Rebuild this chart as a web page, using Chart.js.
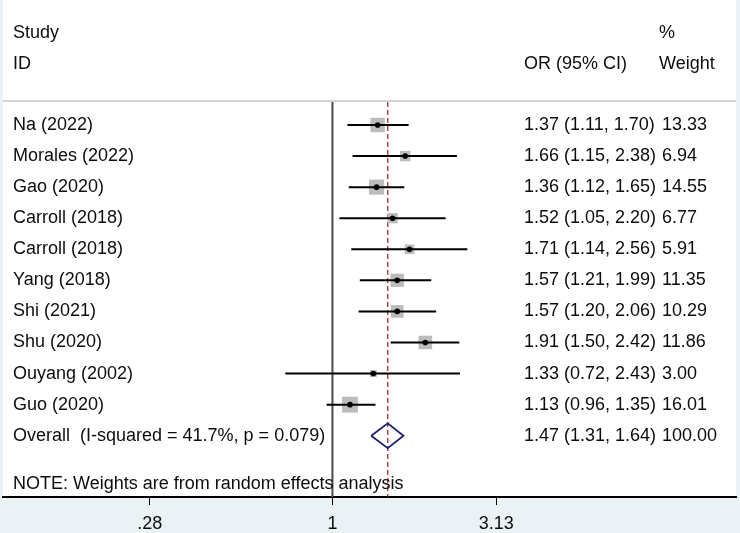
<!DOCTYPE html>
<html>
<head>
<meta charset="utf-8">
<title>Forest plot</title>
<script src="https://cdn.jsdelivr.net/npm/chart.js@4.4.0/dist/chart.umd.min.js"></script>
<style>
  html, body { margin: 0; padding: 0; background: #eaf2f6; }
  #wrap { width: 740px; height: 533px; }
</style>
</head>
<body>
<div id="wrap"><canvas id="forest" width="740" height="533"></canvas></div>
<script>
/* ---------------------------------------------------
   data
----------------------------------------------------- */
var studies = ["Na (2022)", "Morales (2022)", "Gao (2020)", "Carroll (2018)", "Carroll (2018)",
               "Yang (2018)", "Shi (2021)", "Shu (2020)", "Ouyang (2002)", "Guo (2020)"];
var orValues = [1.37, 1.66, 1.36, 1.52, 1.71, 1.57, 1.57, 1.91, 1.33, 1.13];
var ciLow    = [1.11, 1.15, 1.12, 1.05, 1.14, 1.21, 1.20, 1.50, 0.72, 0.96];
var ciHigh   = [1.70, 2.38, 1.65, 2.20, 2.56, 1.99, 2.06, 2.42, 2.43, 1.35];
var weights  = [13.33, 6.94, 14.55, 6.77, 5.91, 11.35, 10.29, 11.86, 3.00, 16.01];

var overallOR = 1.47;
var overallLow = 1.31;
var overallHigh = 1.64;
var overallWeight = 100.00;
var overallLabel = "Overall  (I-squared = 41.7%, p = 0.079)";
var noteText = "NOTE: Weights are from random effects analysis";

var tickValues = [0.28, 1, 3.13];
var tickLabels = [".28", "1", "3.13"];

/* ---------------------------------------------------
   layout (rows are in units of the y scale)
----------------------------------------------------- */
var yTop = -4.023, yBottom = 11.973;
var rowStudy = -2.97, rowID = -1.97, rowRule = -0.74, rowOverall = 10, rowNote = 11.55;
var colLeft = 13, colOR = 524, colWeight = 659;
var textFont = '18px "Liberation Sans", Arial, sans-serif';

function fmt(v) { return v.toFixed(2); }

/* ---------------------------------------------------
   datasets
----------------------------------------------------- */
var datasets = [];

// point estimates (drawn on top)
datasets.push({
    type: 'scatter', order: 0,
    data: orValues.map(function (v, i) { return {x: v, y: i}; }),
    pointRadius: 2.8, pointBackgroundColor: '#000', pointBorderWidth: 0
});

// confidence intervals
for (var i = 0; i < studies.length; i++) {
    datasets.push({
        type: 'scatter', order: 1, showLine: true,
        data: [{x: ciLow[i], y: i}, {x: ciHigh[i], y: i}],
        borderColor: '#000', borderWidth: 2, pointRadius: 0
    });
}

// weight boxes
datasets.push({
    type: 'scatter', order: 2,
    data: orValues.map(function (v, i) { return {x: v, y: i}; }),
    pointStyle: 'rect',
    pointRadius: weights.map(function (w) { return 3.95 * Math.sqrt(w) / Math.SQRT2; }),
    pointBackgroundColor: '#bcbcbc', pointBorderWidth: 0
});

// overall diamond
datasets.push({
    type: 'scatter', order: 1, showLine: true,
    data: [{x: overallLow, y: rowOverall}, {x: overallOR, y: rowOverall - 0.4},
           {x: overallHigh, y: rowOverall}, {x: overallOR, y: rowOverall + 0.4},
           {x: overallLow, y: rowOverall}],
    borderColor: '#1f1f72', borderWidth: 1.8, pointRadius: 0, borderJoinStyle: 'miter'
});

// no effect line
datasets.push({
    type: 'scatter', order: 3, showLine: true,
    data: [{x: 1, y: rowRule}, {x: 1, y: yBottom}],
    borderColor: '#4a4a4a', borderWidth: 2, pointRadius: 0
});

// overall effect line
datasets.push({
    type: 'scatter', order: 3, showLine: true,
    data: [{x: overallOR, y: rowRule}, {x: overallOR, y: yBottom}],
    borderColor: '#9b1f28', borderWidth: 1.2, borderDash: [5, 3], pointRadius: 0
});

/* ---------------------------------------------------
   text columns
----------------------------------------------------- */
var forestText = {
    id: 'forestText',
    beforeDraw: function (chart) {
        var ctx = chart.ctx, a = chart.chartArea, ys = chart.scales.y;
        ctx.save();
        ctx.fillStyle = '#fff';
        ctx.fillRect(a.left, 0, a.right - a.left, a.bottom);
        ctx.strokeStyle = '#c6c6c6';
        ctx.lineWidth = 1.5;
        ctx.beginPath();
        ctx.moveTo(a.left, ys.getPixelForValue(rowRule) - 1);
        ctx.lineTo(a.right, ys.getPixelForValue(rowRule) - 1);
        ctx.stroke();
        ctx.restore();
    },
    afterDraw: function (chart) {
        var ctx = chart.ctx, ys = chart.scales.y;
        ctx.save();
        ctx.font = textFont;
        ctx.fillStyle = '#0d0d0d';
        ctx.textBaseline = 'middle';
        ctx.textAlign = 'left';
        ctx.fillText("Study", colLeft, ys.getPixelForValue(rowStudy));
        ctx.fillText("ID", colLeft, ys.getPixelForValue(rowID));
        ctx.fillText("%", colWeight, ys.getPixelForValue(rowStudy));
        ctx.fillText("OR (95% CI)", colOR, ys.getPixelForValue(rowID));
        ctx.fillText("Weight", colWeight, ys.getPixelForValue(rowID));
        for (var i = 0; i < studies.length; i++) {
            var y = ys.getPixelForValue(i);
            ctx.fillText(studies[i], colLeft, y);
            ctx.fillText(fmt(orValues[i]) + " (" + fmt(ciLow[i]) + ", " + fmt(ciHigh[i]) + ")", colOR, y);
            ctx.fillText(fmt(weights[i]), colWeight + 3, y);
        }
        var yo = ys.getPixelForValue(rowOverall);
        ctx.fillText(overallLabel, colLeft, yo);
        ctx.fillText(fmt(overallOR) + " (" + fmt(overallLow) + ", " + fmt(overallHigh) + ")", colOR, yo);
        ctx.fillText(fmt(overallWeight), colWeight + 3, yo);
        ctx.fillText(noteText, colLeft, ys.getPixelForValue(rowNote));
        ctx.restore();
    }
};

/* ---------------------------------------------------
   chart
----------------------------------------------------- */
var ctx = document.getElementById('forest').getContext('2d');
var forestChart = new Chart(ctx, {
    type: 'scatter',
    data: { datasets: datasets },
    options: {
        responsive: false,
        animation: false,
        events: [],
        layout: { autoPadding: false, padding: { left: 3, right: 4, top: 0, bottom: 0 } },
        plugins: { legend: { display: false }, tooltip: { enabled: false } },
        scales: {
            x: {
                type: 'logarithmic',
                min: 0.1007,
                max: 16.64,
                bounds: 'data',
                afterBuildTicks: function (axis) {
                    axis.ticks = tickValues.map(function (v) { return {value: v}; });
                },
                afterFit: function (axis) { axis.height = 36; },
                border: { display: true, color: '#000', width: 2 },
                grid: { drawOnChartArea: false, drawTicks: true, tickLength: 8, color: '#000', lineWidth: 1 },
                ticks: {
                    autoSkip: false, maxRotation: 0, padding: 8,
                    color: '#0d0d0d',
                    font: { family: '"Liberation Sans", Arial, sans-serif', size: 18 },
                    callback: function (value, index) { return tickLabels[index]; }
                }
            },
            y: {
                type: 'linear',
                reverse: true,
                min: yTop,
                max: yBottom,
                display: false
            }
        }
    },
    plugins: [forestText]
});
</script>
</body>
</html>
